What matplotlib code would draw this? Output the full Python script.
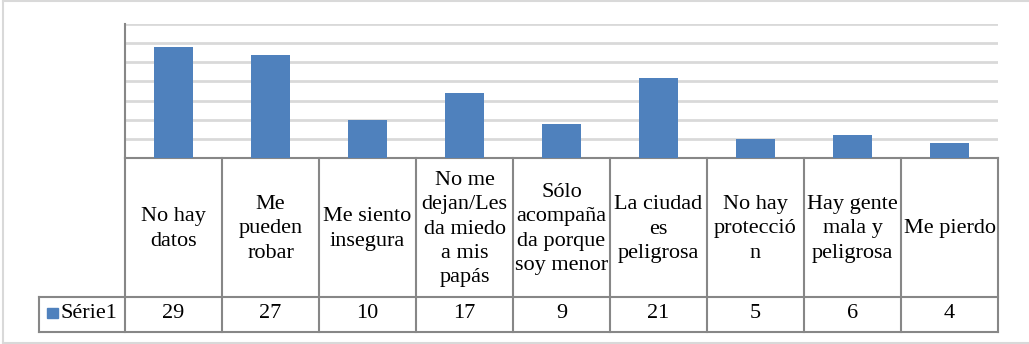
import numpy as np
import matplotlib
matplotlib.use("Agg")
import matplotlib.pyplot as plt
import matplotlib.transforms as mtransforms
from matplotlib.lines import Line2D
from matplotlib.patches import Rectangle

# Datos
categorias = ["No hay\ndatos", "Me\npueden\nrobar", "Me siento\ninsegura",
              "No me\ndejan/Les\nda miedo\na mis\npapás",
              "Sólo\nacompaña\nda porque\nsoy menor", "La ciudad\nes\npeligrosa",
              "No hay\nprotecció\nn", "Hay gente\nmala y\npeligrosa", "Me pierdo"]
valores = [29, 27, 10, 17, 9, 21, 5, 6, 4]
serie = "Série1"

azul = "#4f81bd"
gris = "#878787"
fuente = "Liberation Serif"
tam = 16

W, H = 1029, 344
fig = plt.figure(figsize=(W / 100, H / 100), dpi=100)

def fy(p):
    return 1 - p / H

ax = fig.add_axes([125 / W, fy(158), (998 - 125) / W, (158 - 24) / H])
x = np.arange(len(valores))
ax.bar(x, valores, width=0.4, color=azul, zorder=3)
ax.set_xlim(-0.5, len(valores) - 0.5)
ax.set_ylim(0, 35)
ax.set_yticks(range(0, 36, 5))
ax.grid(axis="y", color="#d9d9d9", linewidth=2, zorder=0)
ax.tick_params(length=0, labelleft=False, labelbottom=False)
for s in ["top", "right", "bottom"]:
    ax.spines[s].set_visible(False)
ax.spines["left"].set_color(gris)
ax.spines["left"].set_linewidth(1.5)

# Tabla de datos
trans = mtransforms.blended_transform_factory(ax.transData, fig.transFigure)
n = len(valores)
for i in range(n + 1):
    ax.add_line(Line2D([i - 0.5, i - 0.5], [fy(158), fy(332)], color=gris,
                       lw=1.5, transform=trans, clip_on=False))
ax.add_line(Line2D([-0.5, n - 0.5], [fy(158), fy(158)], color=gris, lw=1.5,
                   transform=trans, clip_on=False))
for yy in [297, 332]:
    fig.add_artist(Line2D([39 / W, 998 / W], [fy(yy), fy(yy)], color=gris, lw=1.5))
fig.add_artist(Line2D([39 / W, 39 / W], [fy(297), fy(332)], color=gris, lw=1.5))

for i, (c, v) in enumerate(zip(categorias, valores)):
    ax.text(i, fy(229), c, transform=trans, ha="center", va="center",
            fontsize=tam, linespacing=1.38, family=fuente, clip_on=False)
    ax.text(i, fy(314), str(v), transform=trans, ha="center", va="center",
            fontsize=tam, family=fuente, clip_on=False)

fig.add_artist(Rectangle((47 / W, fy(318)), 11 / W, 10.5 / H, color=azul,
                         transform=fig.transFigure))
fig.text(61 / W, fy(314), serie, ha="left", va="center", fontsize=tam, family=fuente)

# Marco exterior
for xs, ys in [([2.5, 2.5], [0, 343]), ([2.5, W], [0.5, 0.5]), ([2.5, W], [342.5, 342.5])]:
    fig.add_artist(Line2D([p / W for p in xs], [fy(p) for p in ys],
                          color="#d9d9d9", lw=1.5))

fig.savefig("out.png", dpi=100)
